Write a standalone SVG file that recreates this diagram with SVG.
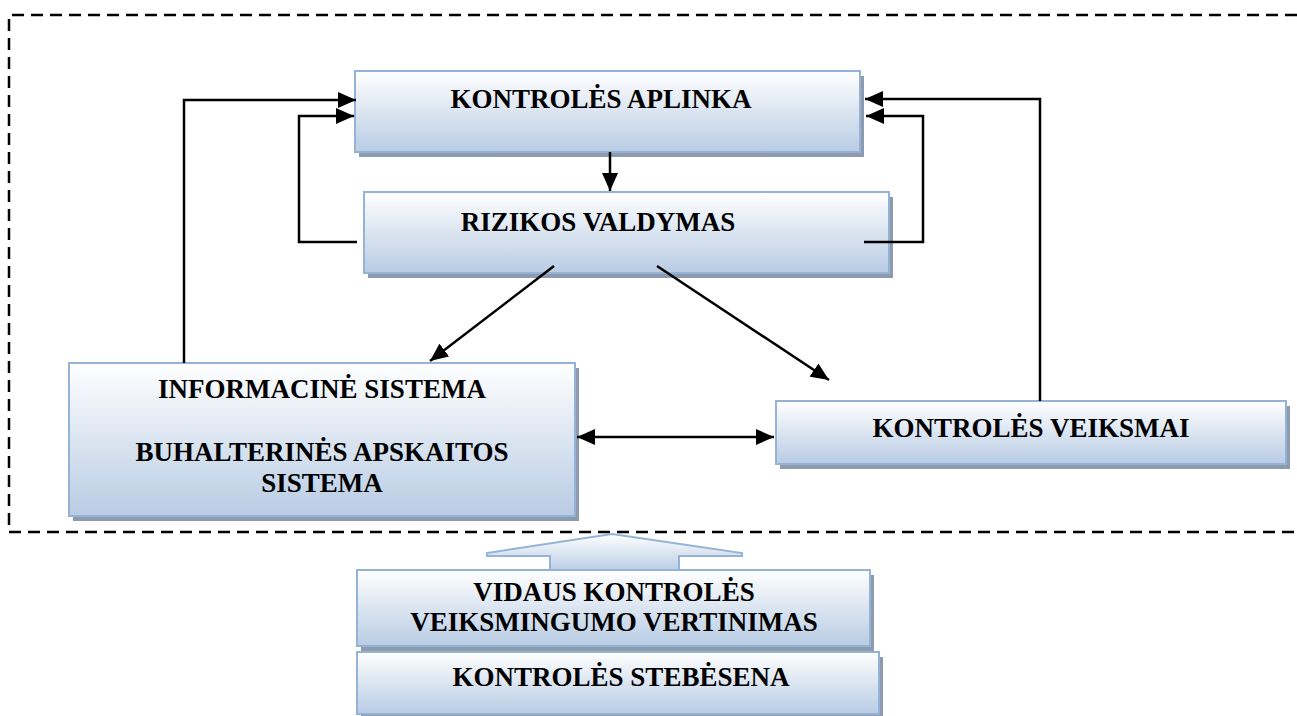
<svg xmlns="http://www.w3.org/2000/svg" width="1297" height="716" viewBox="0 0 1297 716">
  <defs>
    <linearGradient id="boxFill" x1="0" y1="0" x2="0" y2="1">
      <stop offset="0" stop-color="#ffffff"/>
      <stop offset="0.5" stop-color="#dbe5f1"/>
      <stop offset="1" stop-color="#b8cce4"/>
    </linearGradient>
    <marker id="head" markerUnits="userSpaceOnUse" markerWidth="18" markerHeight="16" refX="18" refY="8" orient="auto-start-reverse">
      <path d="M0,0 L18,8 L0,16 Z" fill="#000"/>
    </marker>
    <style>
      .shadow { fill: #8e9bae; }
      .box { fill: url(#boxFill); stroke: #95b3d7; stroke-width: 2; }
      .label { font-family: "Liberation Serif", "Times New Roman", serif; font-weight: bold; font-size: 27px; fill: #000; text-anchor: middle; }
      .conn { fill: none; stroke: #000; stroke-width: 2.5; }
      .frame { fill: none; stroke: #000; stroke-width: 2.5; stroke-dasharray: 12 7; }
    </style>
  </defs>

  <rect width="1297" height="716" fill="#fff"/>

  <!-- dashed boundary of the internal control system -->
  <path class="frame" d="M1297,15 H9 V532 H1297"/>

  <g id="kontroles-aplinka">
    <rect class="shadow" x="359" y="76" width="505" height="81"/>
    <rect class="box" x="355" y="71" width="505" height="81"/>
    <text class="label" x="601" y="108">KONTROLĖS APLINKA</text>
  </g>

  <g id="rizikos-valdymas">
    <rect class="shadow" x="368" y="197" width="525" height="81"/>
    <rect class="box" x="364" y="192" width="525" height="81"/>
    <text class="label" x="598" y="231">RIZIKOS VALDYMAS</text>
  </g>

  <g id="informacine-sistema">
    <rect class="shadow" x="73" y="368" width="506" height="153"/>
    <rect class="box" x="69" y="363" width="506" height="153"/>
    <text class="label" x="322" y="398">INFORMACINĖ SISTEMA</text>
    <text class="label" x="322" y="461">BUHALTERINĖS APSKAITOS</text>
    <text class="label" x="322" y="492">SISTEMA</text>
  </g>

  <g id="kontroles-veiksmai">
    <rect class="shadow" x="780" y="406" width="510" height="63"/>
    <rect class="box" x="776" y="401" width="510" height="63"/>
    <text class="label" x="1031" y="437">KONTROLĖS VEIKSMAI</text>
  </g>

  <g id="monitoring-arrow">
    <polygon class="box" points="612,534 742,553 742,556 679,556 679,572 550,572 550,556 487,556 487,553"/>
  </g>

  <g id="kontroles-stebesena">
    <rect class="shadow" x="361" y="657" width="522" height="62"/>
    <rect class="box" x="357" y="652" width="522" height="62"/>
    <text class="label" x="621" y="686">KONTROLĖS STEBĖSENA</text>
  </g>

  <g id="vidaus-kontroles-vertinimas">
    <rect class="shadow" x="361" y="575" width="513" height="76"/>
    <rect class="box" x="357" y="570" width="513" height="76"/>
    <text class="label" x="614" y="601">VIDAUS KONTROLĖS</text>
    <text class="label" x="614" y="631">VEIKSMINGUMO VERTINIMAS</text>
  </g>

  <g id="connectors">
    <!-- environment to risk management -->
    <line class="conn" x1="610" y1="152" x2="610" y2="191" marker-end="url(#head)"/>
    <!-- risk management feedback loops -->
    <path class="conn" d="M357,242 H299 V116 H354" marker-end="url(#head)"/>
    <path class="conn" d="M864,242 H923 V116 H866" marker-end="url(#head)"/>
    <!-- information system and control activities back to environment -->
    <path class="conn" d="M184,363 V100 H356" marker-end="url(#head)"/>
    <path class="conn" d="M1040,401 V99 H865" marker-end="url(#head)"/>
    <!-- risk management outward -->
    <line class="conn" x1="554" y1="266" x2="430" y2="361" marker-end="url(#head)"/>
    <line class="conn" x1="657" y1="266" x2="829" y2="380" marker-end="url(#head)"/>
    <!-- two-way link between information system and control activities -->
    <line class="conn" x1="577" y1="437" x2="774" y2="437" marker-start="url(#head)" marker-end="url(#head)"/>
  </g>
</svg>
